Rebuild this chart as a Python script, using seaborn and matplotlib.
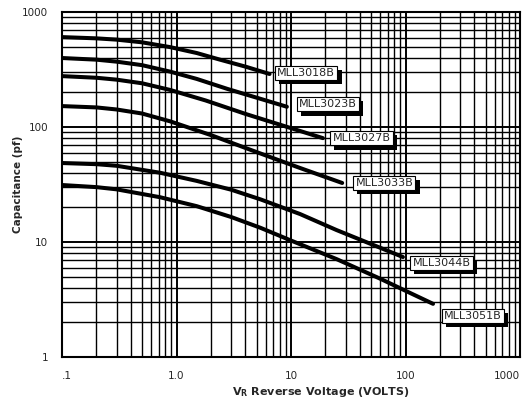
import pandas as pd
import matplotlib
matplotlib.use("Agg")
import matplotlib.pyplot as plt
import matplotlib.patheffects as pe
from matplotlib.ticker import FixedLocator, NullFormatter, LogLocator
import seaborn as sns

sns.set_style("white")
plt.rcParams["font.family"] = ["DejaVu Sans"]

# curves: reverse voltage (V) -> capacitance (pF)
parts = ["MLL3018B", "MLL3023B", "MLL3027B", "MLL3033B", "MLL3044B", "MLL3051B"]

v_3018 = [0.1, 0.2, 0.3, 0.5, 0.88, 1.5, 2.4, 4.0, 6.5]
c_3018 = [605, 590, 575, 545, 495, 440, 385, 335, 289]

v_3023 = [0.1, 0.2, 0.3, 0.5, 0.88, 1.5, 2.8, 5.0, 9.2]
c_3023 = [398, 385, 370, 345, 303, 262, 214, 180, 150]

v_3027 = [0.1, 0.2, 0.3, 0.5, 0.88, 1.8, 4.0, 9.0, 19]
c_3027 = [277, 268, 258, 240, 210, 170, 130, 101, 80]

v_3033 = [0.1, 0.2, 0.3, 0.5, 0.88, 2.0, 4.9, 12, 28]
c_3033 = [152, 148, 142, 131, 112, 85, 61, 44, 32.6]

v_3044 = [0.1, 0.2, 0.3, 0.72, 1.5, 3.0, 5.4, 12, 25, 50, 95]
c_3044 = [48.6, 47.5, 46, 40, 34, 28.5, 23.5, 17.5, 12.7, 9.6, 7.4]

v_3051 = [0.1, 0.2, 0.3, 0.72, 1.5, 3.0, 5.4, 10, 25, 60, 110, 174]
c_3051 = [31.3, 30, 28.7, 24.5, 20.5, 16.5, 13.3, 10.3, 7.1, 4.8, 3.6, 2.9]

volts = [v_3018, v_3023, v_3027, v_3033, v_3044, v_3051]
caps = [c_3018, c_3023, c_3027, c_3033, c_3044, c_3051]

# where the boxed labels sit (left edge, centre)
label_x = [7.6, 11.8, 23, 36.5, 115, 218]
label_y = [295, 158, 80, 32.6, 6.6, 2.27]

xticks = [0.1, 1, 10, 100, 1000]
xticklabels = [".1", "1.0", "10", "100", "1000"]
yticks = [1, 10, 100, 1000]
yticklabels = ["1", "10", "100", "1000"]

rows = []
for name, vs, cs in zip(parts, volts, caps):
    for v, c in zip(vs, cs):
        rows.append({"part": name, "volts": v, "pf": c})
df = pd.DataFrame(rows)

fig = plt.figure(figsize=(5.23, 4.05), dpi=100)
ax = fig.add_axes([62 / 523, 1 - 357 / 405, 458 / 523, 345 / 405])

sns.lineplot(data=df, x="volts", y="pf", hue="part", palette=["black"] * 6,
             linewidth=2.9, legend=False, sort=True, ax=ax, zorder=3)

ax.set_xscale("log")
ax.set_yscale("log")
ax.set_xlim(0.1, 1000)
ax.set_ylim(1, 1000)

ax.xaxis.set_major_locator(FixedLocator(xticks))
ax.set_xticklabels(xticklabels)
ax.yaxis.set_major_locator(FixedLocator(yticks))
ax.set_yticklabels(yticklabels)
ax.xaxis.set_minor_locator(LogLocator(base=10, subs=range(2, 10)))
ax.yaxis.set_minor_locator(LogLocator(base=10, subs=range(2, 10)))
ax.xaxis.set_minor_formatter(NullFormatter())
ax.yaxis.set_minor_formatter(NullFormatter())
ax.tick_params(which="both", length=0, labelsize=7.5, pad=10)
xl = ax.get_xticklabels()
xl[0].set_ha("left")
xl[-1].set_ha("right")

ax.grid(which="major", color="black", linewidth=1.4)
ax.grid(which="minor", color="black", linewidth=1.0)
for s in ax.spines.values():
    s.set_color("black")
    s.set_linewidth(1.5)

ax.set_ylabel("Capacitance (pf)", fontsize=7.5, fontweight="semibold")
ax.yaxis.set_label_coords(-0.085, 0.5)
ax.set_xlabel(r"V$_{\mathbf{R}}$ Reverse Voltage (VOLTS)", fontsize=8, fontweight="bold")
ax.xaxis.set_label_coords(0.565, -0.082)

for name, lx, ly in zip(parts, label_x, label_y):
    t = ax.text(lx, ly, name, fontsize=8, ha="left", va="center", zorder=5,
                bbox=dict(boxstyle="square,pad=0.2", fc="white", ec="black", lw=0.8))
    t.get_bbox_patch().set_path_effects(
        [pe.SimplePatchShadow(offset=(3, -3), shadow_rgbFace="black", alpha=1.0), pe.Normal()])

fig.savefig("out.png", dpi=100)
